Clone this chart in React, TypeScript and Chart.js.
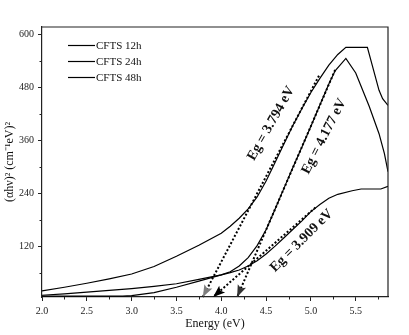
import React, { useEffect, useRef } from 'react';
import { Chart, registerables } from 'chart.js';

Chart.register(...registerables);

// ---------- data ----------
const seriesNames = ['CFTS 12h', 'CFTS 24h', 'CFTS 48h'];

const energy12h = [2.0, 2.25, 2.5, 2.75, 3.0, 3.25, 3.5, 3.75, 4.0, 4.1, 4.2, 4.3, 4.4, 4.5, 4.6, 4.7, 4.8, 4.9, 5.0, 5.1, 5.2, 5.3, 5.39, 5.63, 5.76, 5.8, 5.86];
const abs12h = [20, 28, 37, 47, 58, 75, 98, 123, 150, 166, 184, 205, 232, 268, 310, 352, 394, 432, 468, 500, 530, 554, 570, 570, 473, 454, 439];

const energy24h = [2.0, 2.5, 2.9, 3.0, 3.25, 3.5, 3.75, 4.0, 4.1, 4.2, 4.3, 4.4, 4.5, 4.6, 4.7, 4.8, 4.9, 5.0, 5.1, 5.2, 5.27, 5.39, 5.5, 5.65, 5.76, 5.82, 5.86];
const abs24h = [8, 8, 8, 9, 16, 28, 42, 56, 63, 76, 95, 122, 158, 204, 252, 299, 345, 392, 440, 487, 517, 545, 512, 437, 375, 330, 289];

const energy48h = [2.0, 2.25, 2.5, 2.75, 3.0, 3.25, 3.5, 3.75, 4.0, 4.1, 4.2, 4.3, 4.4, 4.5, 4.6, 4.7, 4.8, 4.9, 5.0, 5.1, 5.2, 5.3, 5.46, 5.56, 5.78, 5.86];
const abs48h = [10, 13, 17, 21, 25, 30, 36, 46, 56, 61, 67, 76, 88, 103, 121, 140, 159, 178, 199, 215, 229, 238, 246, 250, 250, 256];

// band-gap extrapolations (Tauc tangents)
const bandGaps = [3.794, 4.177, 3.909];
const tangentTopX = [5.09, 5.27, 5.05];
const tangentTopY = [506, 519, 208];
const arrowColors = ['#7d7d7d', '#333333', '#000000'];
const gapLabels = ['Eg = 3.794 eV', 'Eg = 4.177 eV', 'Eg = 3.909 eV'];
const gapLabelX = [4.556, 5.147, 4.896];
const gapLabelY = [398, 369, 133];
const gapLabelAngle = [-60.5, -63, -45];

const xTicks = [2.0, 2.5, 3.0, 3.5, 4.0, 4.5, 5.0, 5.5];
const xMinorTicks = [2.25, 2.75, 3.25, 3.75, 4.25, 4.75, 5.25, 5.75];
const yTicks = [120, 240, 360, 480, 600];
const yMinorTicks = [60, 180, 300, 420, 540];

const X_MIN = 2.0;
const X_MAX = 5.86;
const Y_MIN = 6;
const Y_MAX = 616;

const SERIF = "'Liberation Serif', 'Times New Roman', Times, serif";
const AXIS_COLOR = '#222222';

const toPoints = (xs: number[], ys: number[]) => xs.map((x, i) => ({ x, y: ys[i] }));

const decorPlugin = {
  id: 'decor',
  afterDatasetsDraw(chart: any) {
    const { ctx, chartArea, scales } = chart;
    const xs = scales.x;
    const ys = scales.y;
    ctx.save();

    // frame (top and right)
    ctx.strokeStyle = AXIS_COLOR;
    ctx.lineWidth = 1.2;
    ctx.beginPath();
    ctx.moveTo(chartArea.left, chartArea.top);
    ctx.lineTo(chartArea.right, chartArea.top);
    ctx.lineTo(chartArea.right, chartArea.bottom);
    ctx.stroke();

    // minor ticks
    ctx.lineWidth = 1;
    ctx.beginPath();
    xMinorTicks.forEach((v) => {
      const px = Math.round(xs.getPixelForValue(v)) + 0.5;
      ctx.moveTo(px, chartArea.bottom);
      ctx.lineTo(px, chartArea.bottom + 2.5);
    });
    yMinorTicks.forEach((v) => {
      const py = Math.round(ys.getPixelForValue(v)) + 0.5;
      ctx.moveTo(chartArea.left, py);
      ctx.lineTo(chartArea.left - 2.5, py);
    });
    ctx.stroke();

    // arrow heads at the end of tangent lines
    bandGaps.forEach((_, i) => {
      const meta = chart.getDatasetMeta(3 + i);
      const p0 = meta.data[0];
      const p1 = meta.data[1];
      const dx = p1.x - p0.x;
      const dy = p1.y - p0.y;
      const len = Math.hypot(dx, dy);
      const ux = dx / len;
      const uy = dy / len;
      const L = 12;
      const W = 4.5;
      const bx = p1.x - ux * L;
      const by = p1.y - uy * L;
      ctx.fillStyle = arrowColors[i];
      ctx.beginPath();
      ctx.moveTo(p1.x, p1.y);
      ctx.lineTo(bx - uy * W, by + ux * W);
      ctx.lineTo(bx + ux * 2.5, by + uy * 2.5);
      ctx.lineTo(bx + uy * W, by - ux * W);
      ctx.closePath();
      ctx.fill();
    });

    // band-gap labels
    ctx.fillStyle = '#111111';
    ctx.font = `bold 14px ${SERIF}`;
    ctx.textAlign = 'center';
    ctx.textBaseline = 'middle';
    gapLabels.forEach((t, i) => {
      const px = xs.getPixelForValue(gapLabelX[i]);
      const py = ys.getPixelForValue(gapLabelY[i]);
      ctx.save();
      ctx.translate(px, py);
      ctx.rotate((gapLabelAngle[i] * Math.PI) / 180);
      ctx.fillText(t, 0, 0);
      ctx.restore();
    });

    // legend
    ctx.font = `11px ${SERIF}`;
    ctx.textAlign = 'left';
    ctx.textBaseline = 'middle';
    ctx.strokeStyle = '#000000';
    ctx.lineWidth = 1.2;
    seriesNames.forEach((name, i) => {
      const y = chartArea.top + 18.5 + i * 16;
      const x0 = chartArea.left + 26;
      ctx.beginPath();
      ctx.moveTo(x0, y);
      ctx.lineTo(x0 + 27, y);
      ctx.stroke();
      ctx.fillText(name, x0 + 28, y + 0.5);
    });

    ctx.restore();
  },
};

export default function App() {
  const canvasRef = useRef<HTMLCanvasElement | null>(null);

  useEffect(() => {
    if (!canvasRef.current) return;
    Chart.defaults.font.family = SERIF;
    Chart.defaults.color = '#111111';

    const curveStyle = {
      borderColor: '#000000',
      borderWidth: 1.2,
      pointRadius: 0,
      tension: 0,
      fill: false,
    };

    const datasets: any[] = [
      { label: seriesNames[0], data: toPoints(energy12h, abs12h), ...curveStyle },
      { label: seriesNames[1], data: toPoints(energy24h, abs24h), ...curveStyle },
      { label: seriesNames[2], data: toPoints(energy48h, abs48h), ...curveStyle },
      ...bandGaps.map((eg, i) => ({
        label: gapLabels[i],
        data: [
          { x: tangentTopX[i], y: tangentTopY[i] },
          { x: eg, y: Y_MIN },
        ],
        borderColor: '#000000',
        borderWidth: 2,
        borderDash: [2, 2],
        borderCapStyle: 'butt',
        pointRadius: 0,
        fill: false,
        clip: false,
      })),
    ];

    const chart = new Chart(canvasRef.current, {
      type: 'line',
      data: { datasets },
      plugins: [decorPlugin],
      options: {
        animation: false,
        responsive: false,
        devicePixelRatio: 1,
        layout: { padding: { top: 27, right: 21, left: 0, bottom: 0 } },
        plugins: {
          legend: { display: false },
          tooltip: { enabled: false },
        },
        scales: {
          x: {
            type: 'linear',
            min: X_MIN,
            max: X_MAX,
            afterFit: (s: any) => {
              s.height = 38;
            },
            afterBuildTicks: (s: any) => {
              s.ticks = xTicks.map((v) => ({ value: v }));
            },
            ticks: {
              font: { size: 10, family: SERIF },
              color: '#222222',
              padding: 4,
              maxRotation: 0,
              autoSkip: false,
              callback: (v: any) => Number(v).toFixed(1),
            },
            grid: {
              drawOnChartArea: false,
              tickLength: 4,
              tickColor: AXIS_COLOR,
              tickWidth: 1,
            },
            border: { color: AXIS_COLOR, width: 1.2 },
            title: {
              display: true,
              text: 'Energy (eV)',
              font: { size: 12, family: SERIF },
              color: '#111111',
              padding: { top: 0, bottom: 4 },
            },
          },
          y: {
            type: 'linear',
            min: Y_MIN,
            max: Y_MAX,
            afterFit: (s: any) => {
              s.width = 42;
            },
            afterBuildTicks: (s: any) => {
              s.ticks = yTicks.map((v) => ({ value: v }));
            },
            ticks: {
              font: { size: 10, family: SERIF },
              color: '#222222',
              padding: 4,
              autoSkip: false,
              callback: (v: any) => String(v),
            },
            grid: {
              drawOnChartArea: false,
              tickLength: 4,
              tickColor: AXIS_COLOR,
              tickWidth: 1,
            },
            border: { color: AXIS_COLOR, width: 1.2 },
            title: {
              display: true,
              text: '(αhν)² (cm⁻¹eV)²',
              font: { size: 12, family: SERIF },
              color: '#111111',
              padding: { top: 3, bottom: 0 },
            },
          },
        },
      } as any,
    });

    return () => chart.destroy();
  }, []);

  return (
    <div style={{ position: 'fixed', left: 0, top: 0, width: 409, height: 335, background: '#ffffff' }}>
      <canvas ref={canvasRef} width={409} height={335} style={{ display: 'block', width: 409, height: 335 }} />
    </div>
  );
}
